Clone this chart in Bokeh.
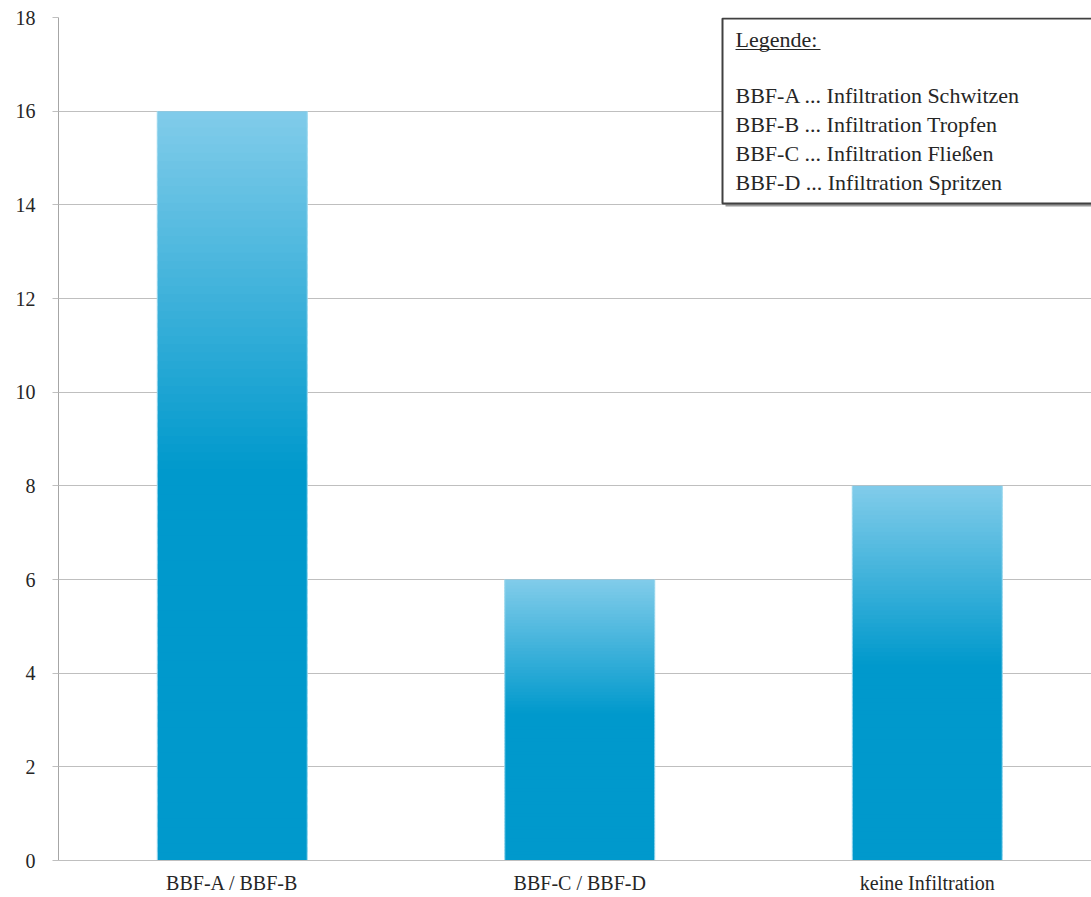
import numpy as np
from bokeh.plotting import figure
from bokeh.models import FixedTicker, Range1d, ColumnDataSource
from bokeh.core.properties import value
from bokeh.embed import file_html
from bokeh.resources import INLINE

# ---------------- data ----------------
categories = ["BBF-A / BBF-B", "BBF-C / BBF-D", "keine Infiltration"]
counts = [16, 6, 8]
y_ticks = [0, 2, 4, 6, 8, 10, 12, 14, 16, 18]
legend_title = "Legende:"
legend_lines = [
    "BBF-A ... Infiltration Schwitzen",
    "BBF-B ... Infiltration Tropfen",
    "BBF-C ... Infiltration Fließen",
    "BBF-D ... Infiltration Spritzen",
]

# ---------------- layout ----------------
W, H = 1091, 897
ML, MT, MB = 58, 17, 37
frame_w = W - ML
frame_h = H - MT - MB
cat_px = 347.5
x_end = frame_w / cat_px
y_max = 18
px_per_unit = frame_h / y_max


def xd(px):  # canvas pixel -> data x
    return (px - ML) / cat_px


def yd(py):  # canvas pixel -> data y
    return y_max - (py - MT) / px_per_unit


FONT = "Liberation Serif"
TEXT_COLOR = "#262626"

p = figure(width=W, height=H, output_backend="svg", toolbar_location=None,
           x_range=Range1d(0, x_end), y_range=Range1d(0, y_max),
           min_border_left=ML, min_border_top=MT, min_border_bottom=MB,
           min_border_right=0)
p.outline_line_color = None
p.background_fill_color = "white"
p.border_fill_color = "white"

# grid
p.xgrid.grid_line_color = None
p.ygrid.grid_line_color = "#BFBFBF"
p.ygrid.grid_line_width = 1
p.ygrid.ticker = FixedTicker(ticks=y_ticks)

# y axis
p.yaxis.ticker = FixedTicker(ticks=y_ticks)
p.yaxis.axis_line_color = "#A6A6A6"
p.yaxis.major_tick_line_color = "#BFBFBF"
p.yaxis.major_tick_in = 0
p.yaxis.major_tick_out = 6
p.yaxis.minor_tick_line_color = None
p.yaxis.major_label_standoff = 17
p.yaxis.major_label_text_font = FONT
p.yaxis.major_label_text_font_size = "20px"
p.yaxis.major_label_text_color = TEXT_COLOR

# x axis
centers = [i + 0.5 for i in range(len(categories))]
p.xaxis.ticker = FixedTicker(ticks=centers)
p.xaxis.major_label_overrides = {c: lab for c, lab in zip(centers, categories)}
p.xaxis.axis_line_color = "#BFBFBF"
p.xaxis.major_tick_line_color = None
p.xaxis.major_tick_out = 0
p.xaxis.major_tick_in = 0
p.xaxis.minor_tick_line_color = None
p.xaxis.major_label_standoff = 11
p.xaxis.major_label_text_font = FONT
p.xaxis.major_label_text_font_size = "20px"
p.xaxis.major_label_text_color = TEXT_COLOR

# ---------------- gradient bars ----------------
bar_w = 150 / cat_px
top_rgb = np.array([130, 204, 234])
bot_rgb = np.array([0, 153, 204])
N = 90
L, R, B, T, C = [], [], [], [], []
for c, v in zip(centers, counts):
    edges = np.linspace(0, v, N + 1)
    step = v / N
    for j in range(N):
        mid = 0.5 * (edges[j] + edges[j + 1])
        f = (v - mid) / v
        t = min(f / 0.48, 1.0)
        rgb = top_rgb * (1 - t) + bot_rgb * t
        col = "#%02x%02x%02x" % tuple(int(round(x)) for x in rgb)
        L.append(c - bar_w / 2)
        R.append(c + bar_w / 2)
        B.append(edges[j])
        T.append(min(edges[j + 1] + 0.6 * step, v))
        C.append(col)
src = ColumnDataSource(dict(left=L, right=R, bottom=B, top=T, color=C))
p.quad(left="left", right="right", bottom="bottom", top="top", source=src,
       fill_color="color", line_color=None)

# light side edges of bars
p.segment(x0=[c - bar_w / 2 for c in centers], x1=[c - bar_w / 2 for c in centers],
          y0=[0] * 3, y1=counts, line_color="#9ED9EE", line_width=1)
p.segment(x0=[c + bar_w / 2 for c in centers], x1=[c + bar_w / 2 for c in centers],
          y0=[0] * 3, y1=counts, line_color="#9ED9EE", line_width=1)

# ---------------- legend box ----------------
p.quad(left=[xd(725)], right=[x_end + 1], top=[yd(20)], bottom=[yd(206)],
       fill_color="#9A9A9A", line_color=None)
p.quad(left=[xd(722)], right=[x_end + 1], top=[yd(18)], bottom=[yd(203)],
       fill_color="white", line_color="#404040", line_width=2)

p.text(x=[xd(735)], y=[yd(39)], text=[legend_title],
       text_font=value(FONT), text_font_size="22px", text_color=TEXT_COLOR,
       text_baseline="middle", text_align="left")
p.segment(x0=[xd(735)], x1=[xd(820)], y0=[yd(49)], y1=[yd(49)],
          line_color=TEXT_COLOR, line_width=1)

line_y = [yd(95 + 29 * i) for i in range(len(legend_lines))]
p.text(x=[xd(735)] * len(legend_lines), y=line_y, text=legend_lines,
       text_font=value(FONT), text_font_size="22px", text_color=TEXT_COLOR,
       text_baseline="middle", text_align="left")

open("out.html", "w").write(file_html(p, INLINE))
